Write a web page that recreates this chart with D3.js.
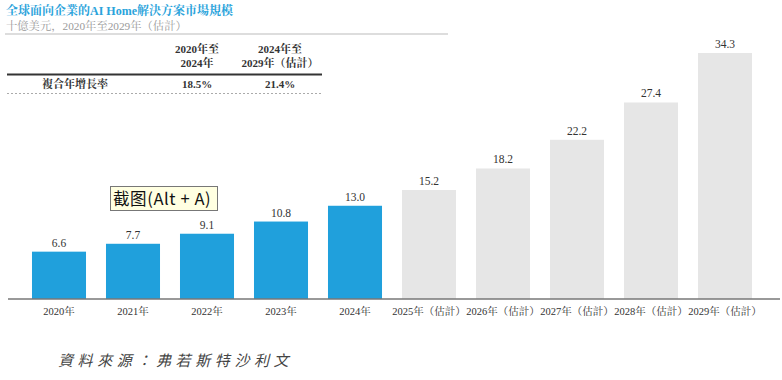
<!DOCTYPE html>
<html><head><meta charset="utf-8">
<script src="https://cdn.jsdelivr.net/npm/d3@7/dist/d3.min.js"></script>
<style>
body{margin:0;background:#fff;}
svg{display:block;}
</style></head>
<body>
<svg id="chart" width="782" height="380"></svg>
<script>
const categories = ["2020年","2021年","2022年","2023年","2024年","2025年（估計）","2026年（估計）","2027年（估計）","2028年（估計）","2029年（估計）"];
const values = [6.6, 7.7, 9.1, 10.8, 13.0, 15.2, 18.2, 22.2, 27.4, 34.3];
const isForecast = [false,false,false,false,false,true,true,true,true,true];
const cagrHeaders = [["2020年至","2024年"],["2024年至","2029年（估計）"]];
const cagrLabel = "複合年增長率";
const cagrValues = ["18.5%","21.4%"];
const title = "全球面向企業的AI Home解決方案市場規模";
const subtitle = "十億美元，2020年至2029年（估計）";
const source = "資料來源：弗若斯特沙利文";

const svg = d3.select("#chart");
const serif = "'Liberation Serif','DejaVu Serif','Noto Serif CJK SC','Noto Sans CJK TC',serif";
const baseY = 299;

const x = d3.scaleBand().domain(categories).range([22, 762]).paddingInner(0.27).paddingOuter(0.135);
const y = d3.scaleLinear().domain([0, 34.3]).range([baseY, 53]);

// title
svg.append("text").attr("x",6).attr("y",15).attr("font-family",serif).attr("font-weight","bold")
  .attr("font-size",12).attr("fill","#2aa3db").text(title);
svg.append("text").attr("x",6).attr("y",30).attr("font-family",serif)
  .attr("font-size",11.3).attr("fill","#9a9a9a").text(subtitle);
svg.append("line").attr("x1",5).attr("x2",448).attr("y1",34).attr("y2",34).attr("stroke","#bbb").attr("stroke-width",1);

// CAGR table
const colX = [197, 280];
cagrHeaders.forEach((h,i)=>{
  h.forEach((t,j)=>{
    svg.append("text").attr("x",colX[i]).attr("y",53+j*14).attr("text-anchor","middle")
      .attr("font-family",serif).attr("font-weight","bold").attr("font-size",11).attr("fill","#333").text(t);
  });
});
svg.append("line").attr("x1",7).attr("x2",322).attr("y1",74.5).attr("y2",74.5).attr("stroke","#333").attr("stroke-width",2);
svg.append("text").attr("x",75).attr("y",88).attr("text-anchor","middle")
  .attr("font-family",serif).attr("font-weight","bold").attr("font-size",11).attr("fill","#333").text(cagrLabel);
cagrValues.forEach((v,i)=>{
  svg.append("text").attr("x",colX[i]).attr("y",88).attr("text-anchor","middle")
    .attr("font-family",serif).attr("font-weight","bold").attr("font-size",11).attr("fill","#333").text(v);
});
svg.append("line").attr("x1",7).attr("x2",322).attr("y1",93.5).attr("y2",93.5).attr("stroke","#aaa")
  .attr("stroke-width",1).attr("stroke-dasharray","2,2");

// bars
svg.selectAll("rect.bar").data(values).enter().append("rect").attr("class","bar")
  .attr("x",(d,i)=>x(categories[i])).attr("width",x.bandwidth())
  .attr("y",d=>y(d)).attr("height",d=>baseY-y(d))
  .attr("fill",(d,i)=>isForecast[i]?"#e6e6e6":"#20a0dc");

svg.selectAll("text.val").data(values).enter().append("text").attr("class","val")
  .attr("x",(d,i)=>x(categories[i])+x.bandwidth()/2).attr("y",d=>y(d)-5)
  .attr("text-anchor","middle").attr("font-family",serif).attr("font-size",11.5).attr("fill","#333")
  .text(d=>d.toFixed(1));

// axis
const axis = d3.axisBottom(x).tickSize(0).tickPadding(9);
const g = svg.append("g").attr("transform",`translate(0,${baseY})`).call(axis);
g.select(".domain").remove();
g.selectAll("text").attr("font-family",serif).attr("font-size",10.5).attr("fill","#333");
svg.append("line").attr("x1",8).attr("x2",780).attr("y1",baseY).attr("y2",baseY).attr("stroke","#777").attr("stroke-width",1.5);

// screenshot tooltip
svg.append("rect").attr("x",110.5).attr("y",186.5).attr("width",107).attr("height",24)
  .attr("fill","#ffffe1").attr("stroke","#777").attr("stroke-width",1);
svg.append("text").attr("x",113).attr("y",205).attr("font-family","'Noto Sans CJK SC','DejaVu Sans',sans-serif")
  .attr("font-size",16.5).attr("letter-spacing",0.6).attr("fill","#111").text("截图(Alt + A)");

// source
svg.append("text").attr("x",58).attr("y",366).attr("font-family","'Noto Sans CJK TC','Noto Sans CJK SC',serif")
  .attr("font-style","italic").attr("font-size",15).attr("letter-spacing",4.6).attr("fill","#444")
  .text(source);
</script>
</body></html>
